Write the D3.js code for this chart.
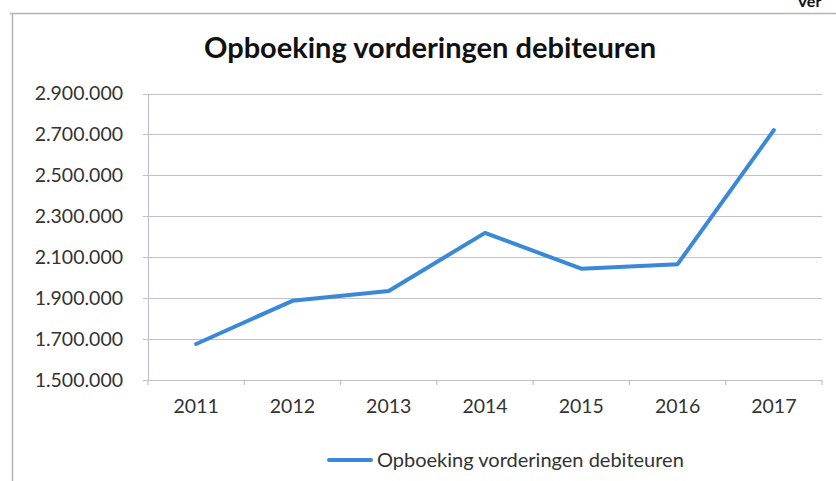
<!DOCTYPE html>
<html><head><meta charset="utf-8">
<script src="https://cdn.jsdelivr.net/npm/d3@7"></script>
<style>
html,body{margin:0;padding:0;background:#fff;}
svg{display:block;}
</style></head>
<body>
<svg id="c" width="836" height="481"></svg>
<script>
const categories = ["2011","2012","2013","2014","2015","2016","2017"];
const values = [1676000, 1887000, 1935000, 2219000, 2044000, 2066000, 2721000];
const yTicks = [1500000,1700000,1900000,2100000,2300000,2500000,2700000,2900000];
const seriesName = "Opboeking vorderingen debiteuren";
const title = "Opboeking vorderingen debiteuren";

const svg = d3.select("#c");
const W = 836, H = 481;
const m = {left:148, right:14, top:93.5, bottom:101};
const font = "Lato, 'Open Sans', sans-serif";

// outer chart frame
svg.append("line").attr("x1",10).attr("x2",W).attr("y1",13.5).attr("y2",13.5).attr("stroke","#b4b4b4").attr("stroke-width",1.5);
svg.append("line").attr("x1",12.5).attr("x2",12.5).attr("y1",13).attr("y2",H).attr("stroke","#b4b4b4").attr("stroke-width",1.5);
svg.append("text").attr("x",797).attr("y",7).attr("font-family",font).attr("font-weight","bold").attr("font-size",16).attr("fill","#111").text("Ver");

const x = d3.scaleBand().domain(categories).range([m.left, W - m.right]);
const y = d3.scaleLinear().domain([1500000, 2900000]).range([H - m.bottom, m.top]);

const fmt = v => d3.format(",")(v).replace(/,/g, ".");

// gridlines
svg.append("g").selectAll("line").data(yTicks).join("line")
  .attr("x1", m.left - 5).attr("x2", W - m.right)
  .attr("y1", d => Math.round(y(d)) + 0.5).attr("y2", d => Math.round(y(d)) + 0.5)
  .attr("stroke", "#c0bfd4").attr("stroke-width", 1.2);

// y axis
const yAxis = svg.append("g").attr("transform", `translate(${m.left},0)`)
  .call(d3.axisLeft(y).tickValues(yTicks).tickFormat(fmt).tickSize(0).tickPadding(25));
yAxis.select(".domain").attr("stroke", "#c0bfd4").attr("stroke-width", 1.2);
yAxis.selectAll("text").attr("font-family", font).attr("font-size", 19.5).attr("fill", "#333");

// x axis
const xAxis = svg.append("g").attr("transform", `translate(0,${y(1500000)})`)
  .call(d3.axisBottom(x).tickSize(0).tickPadding(19));
xAxis.select(".domain").remove();
xAxis.selectAll("text").attr("font-family", font).attr("font-size", 19.5).attr("fill", "#333");
// tick marks between categories
const bounds = categories.map(c => x(c)).concat([x(categories[categories.length-1]) + x.bandwidth()]);
svg.append("g").selectAll("line").data(bounds).join("line")
  .attr("x1", d => d).attr("x2", d => d)
  .attr("y1", y(1500000)).attr("y2", y(1500000) + 5)
  .attr("stroke", "#c0bfd4").attr("stroke-width", 1.2);

// line
const line = d3.line().x((d,i) => x(categories[i]) + x.bandwidth()/2).y(d => y(d));
svg.append("path").datum(values).attr("d", line)
  .attr("fill", "none").attr("stroke", "#3a88d8").attr("stroke-width", 4)
  .attr("stroke-linejoin", "round").attr("stroke-linecap", "round");

// title
svg.append("text").attr("x", 430).attr("y", 58).attr("text-anchor", "middle")
  .attr("font-family", font).attr("font-weight", "bold").attr("font-size", 29).attr("fill", "#111")
  .text(title);

// legend
svg.append("line").attr("x1", 329).attr("x2", 371).attr("y1", 460).attr("y2", 460)
  .attr("stroke", "#3a88d8").attr("stroke-width", 4).attr("stroke-linecap", "round");
svg.append("text").attr("x", 377).attr("y", 467).attr("font-family", font).attr("font-size", 20).attr("fill", "#333")
  .text(seriesName);
</script>
</body></html>
